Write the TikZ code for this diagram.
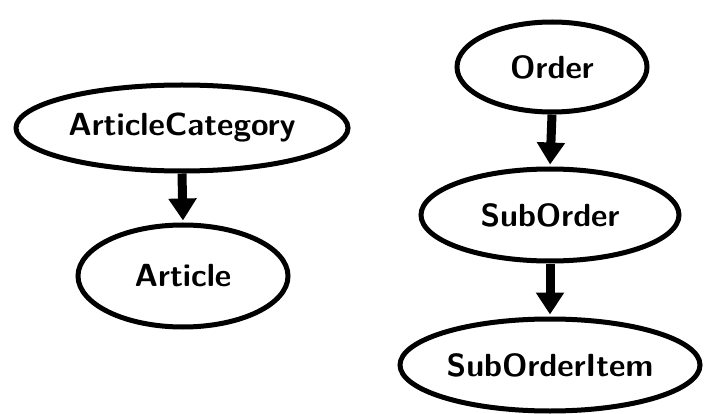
\documentclass[tikz,border=0pt]{standalone}
\usetikzlibrary{shapes.geometric,arrows.meta}
\tikzset{
  entity/.style={ellipse, draw, line width=5pt, inner sep=0pt,
    font=\fontsize{32}{38}\selectfont\sffamily\bfseries},
  link/.style={line width=9pt, -{Triangle[width=27pt,length=22pt]}, shorten >=2pt}
}
\begin{document}
\begin{tikzpicture}[x=1pt,y=-1pt]
\useasboundingbox (0,0) rectangle (704,414);
% left tree
\node[entity, minimum width=332pt, minimum height=86pt] (ac) at (182,128) {ArticleCategory};
\node[entity, minimum width=210pt, minimum height=102pt] (art) at (183,276) {Article};
% right tree
\node[entity, minimum width=190pt, minimum height=90pt] (ord) at (552,67) {Order};
\node[entity, minimum width=258pt, minimum height=92pt] (sub) at (550,215) {SubOrder};
\node[entity, minimum width=300pt, minimum height=92pt] (item) at (550,365) {SubOrderItem};
% containment links
\draw[link] (ac.south) -- (art.north);
\draw[link] (ord.south) -- (sub.north);
\draw[link] (sub.south) -- (item.north);
\end{tikzpicture}
\end{document}
